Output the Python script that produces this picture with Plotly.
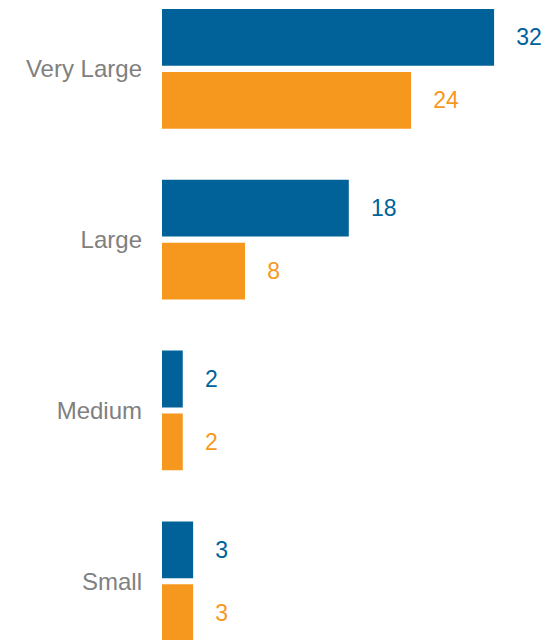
import plotly.graph_objects as go

categories = ["Very Large", "Large", "Medium", "Small"]
series_a = [32, 18, 2, 3]
series_b = [24, 8, 2, 3]

BLUE = "#006299"
ORANGE = "#F7981E"
GRAY = "#808080"
FONT = "Arial"
PAD = "\u00a0\u00a0\u00a0"

fig = go.Figure()
for vals, col in [(series_a, BLUE), (series_b, ORANGE)]:
    fig.add_trace(go.Bar(
        y=categories, x=vals, orientation="h",
        marker=dict(color=col, line=dict(width=0)),
        text=[f"{PAD}{v}" for v in vals],
        textposition="outside", constraintext="none", cliponaxis=False,
        textfont=dict(family=FONT, size=23, color=col),
        showlegend=False, hoverinfo="skip",
    ))

fig.update_layout(
    width=560, height=640,
    margin=dict(l=162, r=0, t=0, b=0),
    paper_bgcolor="white", plot_bgcolor="white",
    barmode="group", bargap=0.2635, bargroupgap=0.097,
    font=dict(family=FONT),
    xaxis=dict(range=[0, 38.35], visible=False, showgrid=False, zeroline=False),
    yaxis=dict(
        type="category", categoryorder="array", categoryarray=categories,
        range=[3.344, -0.403], showgrid=False, zeroline=False, showline=False,
        ticks="", ticklabelstandoff=19,
        tickfont=dict(family=FONT, size=24, color=GRAY),
    ),
)

fig.write_html("out.html", config={"displayModeBar": False},
               post_script="document.body.style.margin='0';")
